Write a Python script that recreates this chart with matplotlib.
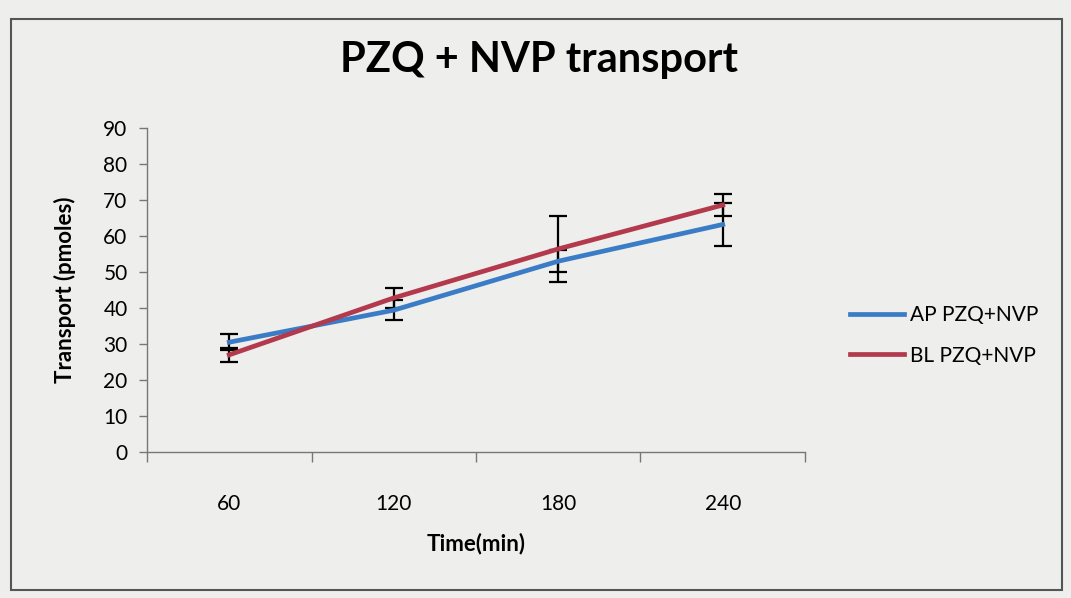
import matplotlib.pyplot as plt
from matplotlib.patches import Rectangle
from matplotlib.lines import Line2D
import numpy as np

plt.rcParams['font.family'] = ['Lato', 'DejaVu Sans']

times = ['60', '120', '180', '240']
ap_mean = [30.5, 39.4, 53.0, 63.2]
ap_err = [2.3, 2.7, 3.0, 6.0]
bl_mean = [27.0, 42.8, 56.4, 68.6]
bl_err = [2.0, 2.7, 9.2, 3.0]

blue = '#3a7cc6'
red = '#b3394d'

fig = plt.figure(figsize=(10.71, 5.98), dpi=100)
fig.patch.set_facecolor('#eeeeec')

# chart border
fig.patches.append(Rectangle((0.010, 0.013), 0.982, 0.955, transform=fig.transFigure,
                             fill=False, edgecolor='#555555', linewidth=1.5))

ax = fig.add_axes([0.1373, 0.2441, 0.6143, 0.5419])
ax.set_facecolor('none')

x = np.arange(len(times)) + 0.5
ax.errorbar(x, ap_mean, yerr=ap_err, color=blue, linewidth=3.4,
            ecolor='black', elinewidth=1.6, capsize=6.5, capthick=1.6)
ax.errorbar(x, bl_mean, yerr=bl_err, color=red, linewidth=3.4,
            ecolor='black', elinewidth=1.6, capsize=6.5, capthick=1.6)

ax.set_xlim(0, len(times))
ax.set_ylim(0, 90)
ax.set_yticks(range(0, 91, 10))
ax.set_xticks(x)
ax.set_xticklabels(times)
ax.set_xticks(np.arange(len(times) + 1), minor=True)
ax.tick_params(axis='x', which='major', length=0, pad=30, labelsize=15)
ax.tick_params(axis='x', which='minor', length=7, width=1, color='#777777', direction='out')
ax.tick_params(axis='y', length=6, width=1, color='#777777', direction='out', pad=8, labelsize=15)

for s in ['top', 'right']:
    ax.spines[s].set_visible(False)
for s in ['left', 'bottom']:
    ax.spines[s].set_color('#777777')
    ax.spines[s].set_linewidth(1)

ax.set_ylabel('Transport (pmoles)', fontsize=16, fontweight='bold', labelpad=20)
ax.set_xlabel('Time(min)', fontsize=16, fontweight='bold', labelpad=14)
fig.text(0.503, 0.9, 'PZQ + NVP transport', ha='center', va='center',
         fontsize=30, fontweight='bold')

handles = [Line2D([], [], color=blue, linewidth=3.4),
           Line2D([], [], color=red, linewidth=3.4)]
ax.legend(handles, ['AP PZQ+NVP', 'BL PZQ+NVP'], loc='center left',
          bbox_to_anchor=(1.04, 0.36), frameon=False,
          fontsize=15, handlelength=2.6, handletextpad=0.3, labelspacing=1.0)

plt.savefig('out.png', dpi=100, facecolor=fig.get_facecolor())
